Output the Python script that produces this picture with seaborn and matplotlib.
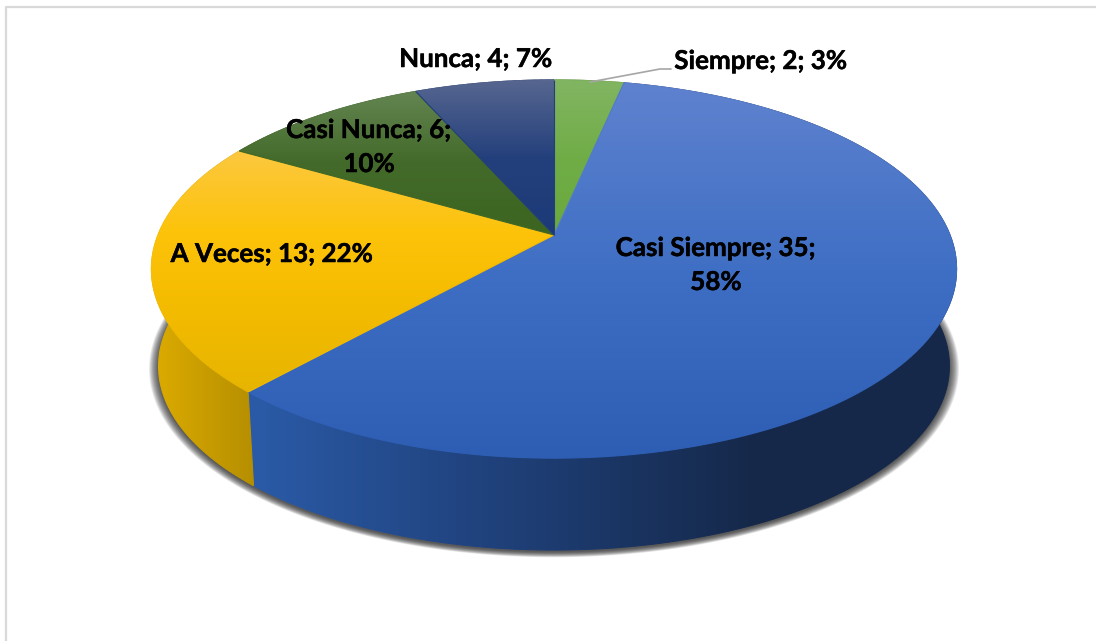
import numpy as np
import seaborn as sns
import matplotlib.pyplot as plt
import matplotlib.patheffects as pe
from matplotlib.patches import Polygon
from matplotlib.collections import LineCollection

categories = ["Siempre", "Casi Siempre", "A Veces", "Casi Nunca", "Nunca"]
values = [2, 35, 13, 6, 4]
percents = [3, 58, 22, 10, 7]

# colour stops of each slice, top surface (top to bottom) and side wall (left to right)
top_colors = [
    ["#82b562", "#70ad47", "#6aa93e"],
    ["#5f82cf", "#3f6fc4", "#2d5eb4"],
    ["#fcc840", "#fdc30a", "#f3bb00", "#e6b400"],
    ["#648552", "#436a2a", "#3c6520"],
    ["#566690", "#24407c", "#1c3a78"],
]
wall_colors = [
    ["#5f9439", "#4c7a2d"],
    ["#2b5ba8", "#1f4079", "#152849"],
    ["#dcab00", "#b58e00"],
    ["#3c6520", "#2c4c18"],
    ["#1c3a78", "#14294f"],
]

sns.set_theme(style="white")
plt.rcParams["font.family"] = ["Lato", "DejaVu Sans"]

fig, ax = plt.subplots(figsize=(10.96, 6.41), dpi=100)
fig.subplots_adjust(0, 0, 1, 1)

# the pie gives the slice angles, then they are laid flat in perspective
wedges, _ = ax.pie(values, startangle=90, counterclock=False)
ax.set_aspect("auto")
ax.set_xlim(0, 1096)
ax.set_ylim(641, 0)
ax.axis("off")


def project(theta, radius=1.0, level=0):
    tilt = 0.18
    x = radius * np.cos(np.radians(theta))
    y = radius * np.sin(np.radians(theta))
    s = 1 / (1 + tilt * y)
    if level == 0:
        return np.c_[554 + 396 * x * s, 235 - 183 * y * s]
    return np.c_[554 + 389 * x * s, 333 - 178 * y * s]


def gradient_fill(xy, colors, horizontal=False, span=(80, 458), z=2):
    cmap = sns.blend_palette(colors, as_cmap=True)
    size = 1096 if horizontal else 641
    grad = np.clip((np.arange(size) + 0.5 - span[0]) / (span[1] - span[0]), 0, 1)
    img = ax.imshow(grad[None, :] if horizontal else grad[:, None], cmap=cmap, vmin=0, vmax=1,
                    aspect="auto", zorder=z, extent=(0, 1096, 641, 0))
    patch = Polygon(xy, closed=True, transform=ax.transData, fill=False, lw=0)
    ax.add_patch(patch)
    img.set_clip_path(patch)
    # smooth edge over the clipped image
    pts = np.vstack([xy, xy[:1]])
    segs = np.stack([pts[:-1], pts[1:]], axis=1)
    pos = segs[:, :, 0 if horizontal else 1].mean(axis=1)
    edge = LineCollection(segs, colors=cmap(np.clip((pos - span[0]) / (span[1] - span[0]), 0, 1)),
                          linewidths=0.8, zorder=z)
    ax.add_collection(edge)


# soft shadow under the bottom rim
circle = np.linspace(0, 360, 361)
rim = project(circle, level=1)
for grow in np.linspace(1.0, 1.024, 14):
    shadow = np.c_[554 + (rim[:, 0] - 554) * grow, 335 + (rim[:, 1] - 333) * grow]
    ax.add_patch(Polygon(shadow, closed=True, fc="#202020", ec="none", alpha=0.085, zorder=1))

# side walls first, the top surface then hides the back ones
for w, c in zip(wedges, wall_colors):
    w.set_visible(False)
    t = np.linspace(w.theta1, w.theta2, 120)
    xy = np.vstack([project(t), project(t[::-1], level=1)])
    if len(c) == 3:
        gradient_fill(xy, c, horizontal=True, span=(248, 760), z=2)
    else:
        gradient_fill(xy, c, horizontal=True, span=(155, 256), z=2)

top_spans = [(80, 235), (82, 458), (150, 395), (90, 235), (80, 235)]
for w, c, sp in zip(wedges, top_colors, top_spans):
    t = np.linspace(w.theta1, w.theta2, 120)
    xy = np.vstack([project(t), project(np.array([0.0]), radius=0)])
    gradient_fill(xy, c, span=sp, z=3)

# leader line of the small slice
ax.plot([590, 660, 671], [82, 69, 69], color="#a6a6a6", lw=1.2, zorder=4)

ax.set_xlim(0, 1096)
ax.set_ylim(641, 0)

labels = [f"{n}; {v}; {p}%" for n, v, p in zip(categories, values, percents)]
labels[1] = labels[1].replace("35; ", "35;\n")
labels[3] = labels[3].replace("6; ", "6;\n")
label_pos = [(761, 61), (716, 265), (272, 254), (369, 147), (476, 59)]
for lab, (x, y) in zip(labels, label_pos):
    ax.text(x, y, lab, ha="center", va="center", fontsize=18.7, fontweight="bold",
            color="black", linespacing=1.5, zorder=5,
            path_effects=[pe.withStroke(linewidth=0.35, foreground="black")])

# chart frame
ax.plot([6, 6, 1096], [641, 7, 7], color="#d9d9d9", lw=1.6, zorder=0)

fig.savefig("out.png", dpi=100)
